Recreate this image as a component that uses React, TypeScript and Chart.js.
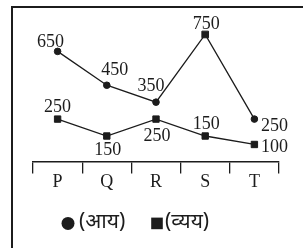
import { useEffect, useRef } from "react";
import { Chart, registerables } from "chart.js";

Chart.register(...registerables);

// ---- data ----
const categories = ["P", "Q", "R", "S", "T"];
const incomeValues = [650, 450, 350, 750, 250];
const expenseValues = [250, 150, 250, 150, 100];
const incomeName = "(आय)";
const expenseName = "(व्यय)";

// ---- styles ----
const incomePointStyles = ["circle", "circle", "circle", "rect", "circle"];
const incomePointRadii = [3.3, 3.3, 3.3, 4.7, 3.3];
const expensePointRadii = [4.5, 4.5, 4.5, 4.5, 4.5];
// value-label offsets relative to each point (dx, dy)
const incomeLabelDx = [-7, 8, -5, 1, 20];
const incomeLabelDy = [-9, -15, -16, -10, 7];
const expenseLabelDx = [0, 1, 1, 1, 20];
const expenseLabelDy = [-12, 14, 17, -12, 3];

const INK = "#1c1c1c";
const SERIF = "'Liberation Serif', 'Times New Roman', serif";
const LEGEND_FONT = "'Noto Sans', 'Noto Sans Devanagari', sans-serif";

const valueLabelPlugin = {
  id: "valueLabels",
  afterDatasetsDraw(chart: any) {
    const ctx = chart.ctx;
    const dxs = [incomeLabelDx, expenseLabelDx];
    const dys = [incomeLabelDy, expenseLabelDy];
    ctx.save();
    ctx.font = `18px ${SERIF}`;
    ctx.fillStyle = INK;
    ctx.textAlign = "center";
    ctx.textBaseline = "middle";
    chart.data.datasets.forEach((ds: any, di: number) => {
      const meta = chart.getDatasetMeta(di);
      meta.data.forEach((pt: any, i: number) => {
        ctx.fillText(String(ds.data[i]), pt.x + dxs[di][i], pt.y + dys[di][i]);
      });
    });
    ctx.restore();
  },
};

// legend drawn beneath the axis: marker + dataset label
const inlineLegendPlugin = {
  id: "inlineLegend",
  afterDraw(chart: any) {
    const ctx = chart.ctx;
    const area = chart.chartArea;
    const y = area.bottom + 62;
    const markerX = [area.left + 35, area.left + 124];
    const textGap = [11, 8];
    const markers = ["circle", "rect"];
    ctx.save();
    ctx.fillStyle = INK;
    ctx.font = `21px ${LEGEND_FONT}`;
    ctx.textAlign = "left";
    ctx.textBaseline = "middle";
    chart.data.datasets.forEach((ds: any, i: number) => {
      const mx = markerX[i];
      ctx.beginPath();
      if (markers[i] === "circle") {
        ctx.arc(mx, y, 6.5, 0, Math.PI * 2);
      } else {
        ctx.rect(mx - 5.8, y - 5.8, 11.6, 11.6);
      }
      ctx.fill();
      ctx.fillText(ds.label, mx + textGap[i], y - 1);
    });
    ctx.restore();
  },
};

export default function App() {
  const canvasRef = useRef<HTMLCanvasElement | null>(null);

  useEffect(() => {
    const canvas = canvasRef.current;
    if (!canvas) return;
    const chart = new Chart(canvas, {
      type: "line",
      data: {
        labels: categories,
        datasets: [
          {
            label: incomeName,
            data: incomeValues,
            borderColor: INK,
            borderWidth: 1.3,
            backgroundColor: INK,
            pointBackgroundColor: INK,
            pointBorderColor: INK,
            pointBorderWidth: 1,
            pointStyle: incomePointStyles as any,
            pointRadius: incomePointRadii,
            tension: 0,
          },
          {
            label: expenseName,
            data: expenseValues,
            borderColor: INK,
            borderWidth: 1.3,
            backgroundColor: INK,
            pointBackgroundColor: INK,
            pointBorderColor: INK,
            pointBorderWidth: 1,
            pointStyle: "rect",
            pointRadius: expensePointRadii,
            tension: 0,
          },
        ],
      },
      options: {
        responsive: false,
        animation: false,
        devicePixelRatio: 1,
        layout: { padding: { left: 33, right: 24, top: 26, bottom: 57 } },
        plugins: {
          tooltip: { enabled: false },
          legend: { display: false },
        },
        scales: {
          x: {
            type: "category",
            offset: true,
            grid: {
              offset: true,
              drawOnChartArea: false,
              drawTicks: true,
              tickLength: 12,
              color: INK,
              lineWidth: 1.3,
            },
            border: { display: true, color: INK, width: 1.5 },
            ticks: {
              color: INK,
              font: { family: SERIF, size: 18 },
              padding: -2,
            },
          },
          y: {
            display: false,
            min: 0,
            max: 800,
          },
        },
      },
      plugins: [valueLabelPlugin, inlineLegendPlugin],
    });
    return () => chart.destroy();
  }, []);

  return (
    <div
      style={{
        position: "fixed",
        left: 0,
        top: 0,
        width: 303,
        height: 248,
        background: "#ffffff",
        overflow: "hidden",
      }}
    >
      <div
        style={{
          position: "absolute",
          left: 11,
          top: 6,
          width: 400,
          height: 400,
          borderLeft: `2px solid ${INK}`,
          borderTop: `2px solid ${INK}`,
        }}
      />
      <canvas
        ref={canvasRef}
        width={303}
        height={248}
        style={{ position: "absolute", left: 0, top: 0, width: 303, height: 248 }}
      />
    </div>
  );
}
